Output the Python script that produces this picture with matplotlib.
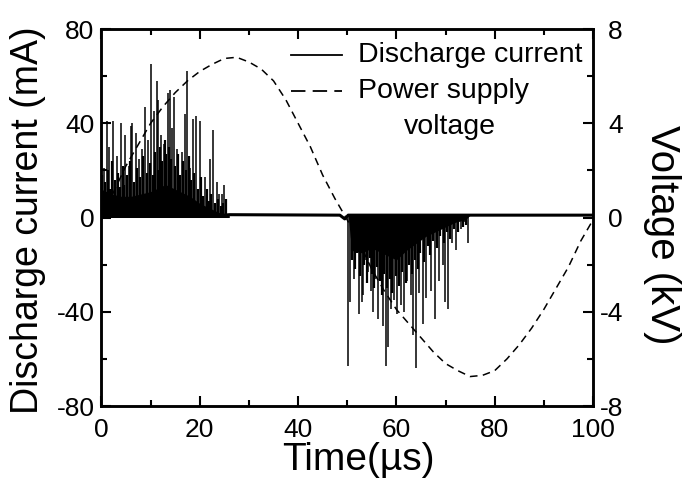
import matplotlib
matplotlib.use('Agg')
import matplotlib.pyplot as plt
from matplotlib.ticker import MultipleLocator

plt.rcParams['font.family'] = ['Liberation Sans', 'DejaVu Sans']
plt.rcParams['axes.unicode_minus'] = False

# power supply voltage (kV), read every 2.5 us
volt_t = [0, 2.5, 5, 7.5, 10, 12.5, 15, 17.5, 20, 22.5, 25, 27.5, 30, 32.5, 35, 37.5, 40,
          42.5, 45, 47.5, 50, 52.5, 55, 57.5, 60, 62.5, 65, 67.5, 70, 72.5, 75, 77.5, 80,
          82.5, 85, 87.5, 90, 92.5, 95, 97.5, 100]
volt_kv = [0.0, 1.1, 2.2, 3.1, 4.0, 4.7, 5.3, 5.8, 6.2, 6.5, 6.75, 6.8, 6.6, 6.3, 5.8, 5.0, 4.0,
           3.0, 1.8, 0.8, -0.1, -1.1, -2.2, -3.1, -3.9, -4.5, -5.1, -5.7, -6.2, -6.5, -6.75, -6.7, -6.5,
           -6.0, -5.4, -4.7, -3.9, -3.0, -2.1, -1.0, -0.1]

# discharge current: solid floor of the dense bursts (mA)
pos_env_t = [0, 2, 4, 6, 8, 10, 12, 13, 14, 15, 16, 18, 20, 22, 24, 25, 26]
pos_env = [12, 10, 9, 9, 10, 11, 13, 14, 13, 12, 11, 9, 6, 4, 2, 1.5, 1]
neg_env_t = [50.2, 50.6, 51, 53, 55, 57, 58, 60, 62, 64, 66, 68, 70, 72, 74, 75]
neg_env = [1, -8, -14, -15, -13, -15, -16, -18, -14, -11, -8, -6, -4, -2, -1, 1]

# large discharge spikes (time in us, peak in mA)
pos_spike_t = [0.5, 1.1, 1.5, 2.4, 3.1, 4.0, 4.8, 5.6, 6.0, 6.3, 7.0, 7.6, 8.2, 8.9, 9.5, 10.1,
               10.6, 11.2, 11.6, 12.2, 12.7, 13.5, 13.9, 14.4, 14.7, 15.3, 16.3, 17.0, 17.5, 18.1,
               18.6, 19.3, 20.0, 21.1, 22.0, 22.6, 23.5, 24.0, 24.6, 25.0]
pos_spike = [21, 41, 30, 41, 26, 40, 35, 22, 39, 40, 36, 25, 29, 47, 33, 65,
             45, 58, 50, 35, 31, 53, 54, 38, 51, 29, 28, 44, 62, 21,
             42, 43, 41, 17, 25, 37, 15, 10, 10, 14]
neg_spike_t = [50.2, 50.6, 51.3, 52.3, 53.0, 53.3, 53.8, 54.3, 54.8, 55.3, 55.7, 56.3, 57.3,
               57.8, 58.3, 58.9, 59.6, 60.2, 60.9, 61.6, 62.2, 62.9, 63.4, 63.9, 64.6, 65.4,
               66.1, 67.1, 67.9, 68.6, 69.4, 69.9, 70.6, 71.4, 72.2, 73.2, 73.9, 74.6]
neg_spike = [-63, -36, -26, -41, -36, -33, -18, -23, -31, -40, -26, -43, -46,
             -63, -55, -39, -35, -41, -37, -40, -27, -33, -50, -64, -32, -45,
             -34, -31, -43, -27, -20, -36, -39, -11, -14, -5, -2, -11]

# smaller spikes forming the jagged top of the bursts
pos_mid_t = [0.2, 0.8, 1.3, 1.8, 2.1, 2.7, 3.4, 3.7, 4.3, 4.6, 5.2, 5.9, 6.6, 7.3, 7.9, 8.5,
             9.2, 9.8, 10.4, 10.9, 11.4, 11.9, 12.4, 13.0, 13.2, 13.7, 14.1, 14.9, 15.6, 16.0,
             16.6, 17.2, 17.8, 18.3, 18.9, 19.6, 20.3, 20.7, 21.5, 21.8, 22.3, 23.0, 23.8,
             24.3, 24.8, 25.3]
pos_mid = [18, 15, 20, 12, 24, 16, 19, 13, 22, 14, 18, 24, 15, 21, 17, 26,
           19, 23, 18, 28, 20, 30, 24, 33, 27, 30, 25, 22, 27, 18,
           24, 20, 26, 16, 19, 12, 17, 9, 12, 7, 10, 6, 8,
           5, 6, 8]
neg_mid_t = [51.0, 51.6, 52.0, 52.6, 53.5, 54.0, 54.6, 55.0, 55.5, 56.0, 56.6, 57.0, 57.5,
             58.0, 58.6, 59.2, 59.9, 60.5, 61.2, 61.9, 62.5, 63.1, 63.7, 64.3, 64.9, 65.7,
             66.4, 66.8, 67.5, 68.2, 68.9, 69.6, 70.2, 70.9, 71.7, 72.6, 73.5, 74.2]
neg_mid = [-18, -22, -15, -25, -20, -28, -17, -24, -30, -21, -27, -33, -24,
           -30, -26, -32, -25, -29, -23, -28, -20, -24, -18, -22, -15, -19,
           -12, -16, -10, -13, -8, -11, -6, -9, -5, -6, -4, -3]

# low-level current between the discharge bursts
base_t = [0, 25, 26, 48.5, 49.5, 50.2, 75, 100]
base_ma = [1, 1, 1.2, 1.0, -0.6, 1.0, 1.0, 1.0]

fig = plt.figure(figsize=(6.82, 4.86), dpi=100)
ax = fig.add_axes([0.1488, 0.1646, 0.7207, 0.7757])
ax2 = ax.twinx()

ax.plot(base_t, base_ma, color='black', lw=2.2, solid_capstyle='butt')
ax.fill_between(pos_env_t, 0, pos_env, color='black', lw=0)
ax.fill_between(neg_env_t, 1, neg_env, color='black', lw=0)
ax.vlines(pos_mid_t, 0, pos_mid, color='black', lw=1.6)
ax.vlines(neg_mid_t, 1, neg_mid, color='black', lw=1.6)
ax.vlines(pos_spike_t, 0, pos_spike, color='black', lw=1.1)
ax.vlines(neg_spike_t, 1, neg_spike, color='black', lw=1.1)

ax2.plot(volt_t, volt_kv, color='black', lw=1.1, linestyle=(0, (5, 3.5)))

ax.set_xlim(0, 100)
ax.set_ylim(-80, 80)
ax2.set_ylim(-8, 8)

ax.xaxis.set_major_locator(MultipleLocator(20))
ax.xaxis.set_minor_locator(MultipleLocator(10))
ax.yaxis.set_major_locator(MultipleLocator(40))
ax.yaxis.set_minor_locator(MultipleLocator(20))
ax2.yaxis.set_major_locator(MultipleLocator(4))
ax2.yaxis.set_minor_locator(MultipleLocator(2))

for a in (ax, ax2):
    for s in a.spines.values():
        s.set_linewidth(1.8)

ax.tick_params(which='both', direction='in', width=1.5, top=True, right=False, labelsize=19)
ax.tick_params(which='major', length=7)
ax.tick_params(which='minor', length=4.5)
ax.tick_params(axis='x', pad=8.5)
ax.tick_params(axis='y', pad=5)
ax2.tick_params(which='both', direction='in', width=1.5, labelsize=19, pad=21.5)
ax2.tick_params(which='major', length=7)
ax2.tick_params(which='minor', length=4.5)
for lbl in ax2.get_yticklabels():
    lbl.set_horizontalalignment('right')

ax.set_xlabel('Time(µs)', fontsize=28)
ax.xaxis.set_label_coords(0.522, -0.143)
ax.xaxis.label.set_verticalalignment('center')
ax.set_ylabel('Discharge current (mA)', fontsize=27)
ax.yaxis.set_label_coords(-0.150, 0.493)
ax.yaxis.label.set_verticalalignment('center')
ax2.set_ylabel('Voltage (kV)', fontsize=29, rotation=270)
ax2.yaxis.set_label_coords(1.140, 0.454)
ax2.yaxis.label.set_verticalalignment('center')

# legend drawn by hand to match the original layout
ax.plot([0.386, 0.489], [0.931, 0.931], transform=ax.transAxes, color='black', lw=1.3)
ax.plot([0.386, 0.489], [0.836, 0.836], transform=ax.transAxes, color='black', lw=1.3,
        linestyle=(0, (8, 4)))
ax.text(0.522, 0.931, 'Discharge current', transform=ax.transAxes, fontsize=20.5,
        va='center', ha='left')
ax.text(0.522, 0.836, 'Power supply', transform=ax.transAxes, fontsize=20.5,
        va='center', ha='left')
ax.text(0.708, 0.740, 'voltage', transform=ax.transAxes, fontsize=20.5,
        va='center', ha='center')

fig.savefig('out.png', dpi=100)
